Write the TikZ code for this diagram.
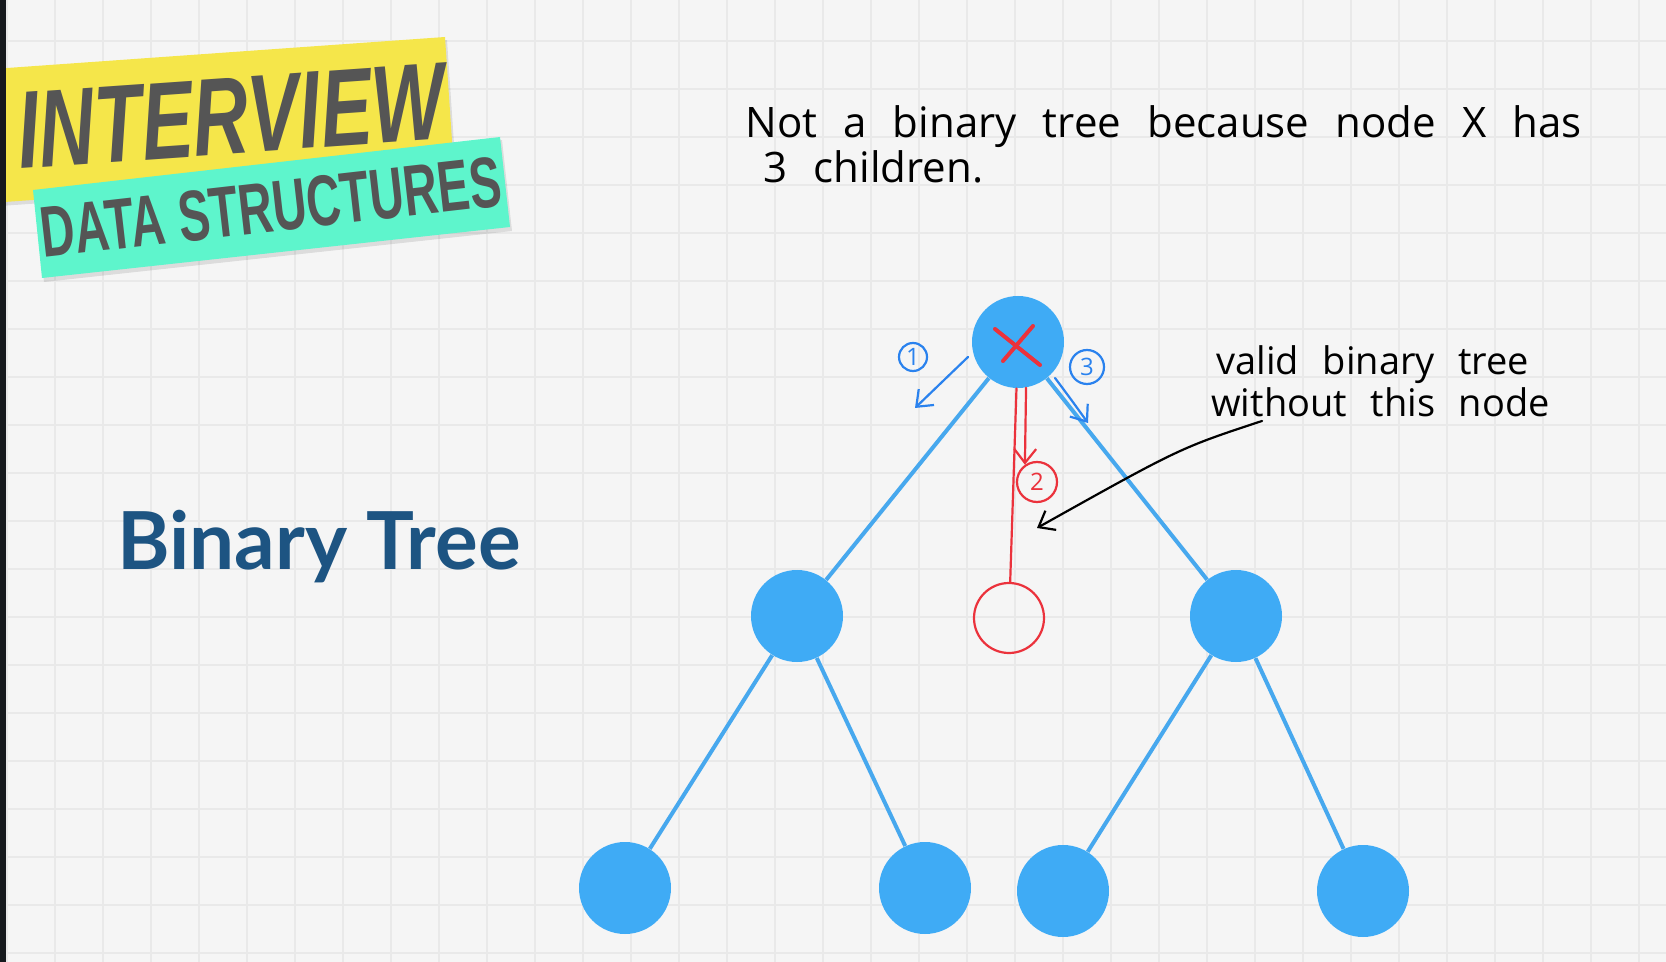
\documentclass[tikz,border=0pt]{standalone}
\usepackage{fontspec}
\setmainfont{Liberation Sans}
\newfontfamily\titlefont{Lato}
\newfontfamily\bannerfont[FakeStretch=0.70]{Liberation Sans}
\newfontfamily\subbannerfont[FakeStretch=0.66]{Liberation Sans}
\newfontfamily\penfont[WordSpace=2.4]{Open Sans}
\usetikzlibrary{arrows.meta}
\definecolor{paper}{HTML}{F5F5F5}
\definecolor{gridgray}{HTML}{E9E9E9}
\definecolor{strip}{HTML}{16191D}
\definecolor{banneryellow}{HTML}{F5E64A}
\definecolor{bannerteal}{HTML}{5EF5CC}
\definecolor{bannerink}{HTML}{555555}
\definecolor{titleblue}{HTML}{1D5482}
\definecolor{nodeblue}{HTML}{3FABF5}
\definecolor{edgeblue}{HTML}{47A8EE}
\definecolor{penblue}{HTML}{2A82EE}
\definecolor{penred}{HTML}{EB323C}
\newcommand{\tnode}[3]{\node[treenode] (#1) at (#2,#3) {};}
\newcommand{\tedge}[2]{\draw[treeedge] (#1) -- (#2);}
\newcommand{\ring}[5]{%
  \node[numring,draw=#4,text=#4,minimum size=#5] (#1) at (#2) {#3};}

\begin{document}
\begin{tikzpicture}[x=0.5pt,y=-0.5pt,
  treenode/.style={circle,fill=nodeblue,minimum size=46pt,inner sep=0pt},
  treeedge/.style={draw=edgeblue,line width=2pt},
  pen/.style={line width=1.1pt,line cap=round,line join=round},
  barb/.style={-{Straight Barb[length=7pt,width=11pt]}},
  numring/.style={circle,draw,line width=1.1pt,inner sep=0pt,
    font=\penfont\fontsize{12}{12}\selectfont},
  note/.style={anchor=base west,inner sep=0pt,text=black},
  ghost/.style={circle,draw=penred,line width=1.1pt,minimum size=35pt,inner sep=0pt}]
  \useasboundingbox (0,0) rectangle (1666,962);
  \fill[paper] (0,0) rectangle (1666,962);
  \foreach \gx in {7,55,...,1666}{\draw[gridgray,line width=0.6pt] (\gx,0) -- (\gx,962);}
  \foreach \gy in {41,89,...,962}{\draw[gridgray,line width=0.6pt] (0,\gy) -- (1666,\gy);}

  \fill[black,opacity=0.10] (0,71) -- (447,40) -- (456,174) -- (0,206) -- cycle;
  \fill[banneryellow] (0,68.5) -- (445,37) -- (454,170.5) -- (0,202.3) -- cycle;
  \node[rotate=4,text=bannerink,inner sep=0pt,
    font=\bannerfont\bfseries\itshape\fontsize{55}{55}\selectfont] (interview) at (231,116) {INTERVIEW};
  \fill[black,opacity=0.10] (35,193) -- (502,140) -- (512,231) -- (44,282) -- cycle;
  \fill[bannerteal] (33,190) -- (500,137) -- (510,227) -- (42,278) -- cycle;
  \node[rotate=6.5,text=bannerink,inner sep=0pt,
    font=\subbannerfont\bfseries\fontsize{36}{36}\selectfont] (topic) at (271,207) {DATA STRUCTURES};
  \fill[strip] (0,0) rectangle (6,962);

  \node[anchor=base west,inner sep=0pt,text=titleblue,
    font=\titlefont\bfseries\fontsize{40}{40}\selectfont] (title) at (117,569) {Binary Tree};

  \node[note,font=\penfont\fontsize{21}{21}\selectfont] (why1) at (745,138) {Not a binary tree because node X has};
  \node[note,font=\penfont\fontsize{21}{21}\selectfont] (why2) at (763,183) {3 children.};
  \node[note,font=\penfont\fontsize{19}{19}\selectfont] (valid1) at (1216,375) {valid binary tree};
  \node[note,font=\penfont\fontsize{19}{19}\selectfont] (valid2) at (1211,417) {without this node};

  \tnode{root}{1018}{342}
  \tnode{lmid}{797}{616}
  \tnode{rmid}{1236}{616}
  \tnode{lla}{625}{888}
  \tnode{llb}{925}{888}
  \tnode{rla}{1063}{891}
  \tnode{rlb}{1363}{891}
  \tedge{root}{lmid} \tedge{root}{rmid}
  \tedge{lmid}{lla} \tedge{lmid}{llb}
  \tedge{rmid}{rla} \tedge{rmid}{rlb}

  \node[ghost] (ghost) at (1009,618) {};
  \draw[pen,penred] (root) -- (ghost);
  \draw[pen,penred,line width=2pt] (root.center) ++(-23,-13) -- ++(45,36);
  \draw[pen,penred,line width=2pt] (root.center) ++(15,-16) -- ++(-30,35);

  \ring{one}{913,357}{1}{penblue}{14pt}
  \ring{two}{1037,482}{2}{penred}{20pt}
  \ring{three}{1087,367}{3}{penblue}{17pt}
  \coordinate (onefrom) at (968,357);
  \coordinate (oneto) at (915,408);
  \coordinate (threefrom) at (1055,378);
  \coordinate (threeto) at (1088,423);
  \draw[pen,penblue,barb] (onefrom) -- (oneto);
  \draw[pen,penblue,barb] (threefrom) .. controls (1070,398) .. (threeto);
  \draw[pen,penred,barb] (root.-80) -- (two.125);

  \coordinate (hintfrom) at (1262,421);
  \coordinate (hintto) at (1037,528);
  \draw[pen,black,barb] (hintfrom) .. controls (1180,448) .. (hintto);
\end{tikzpicture}
\end{document}
